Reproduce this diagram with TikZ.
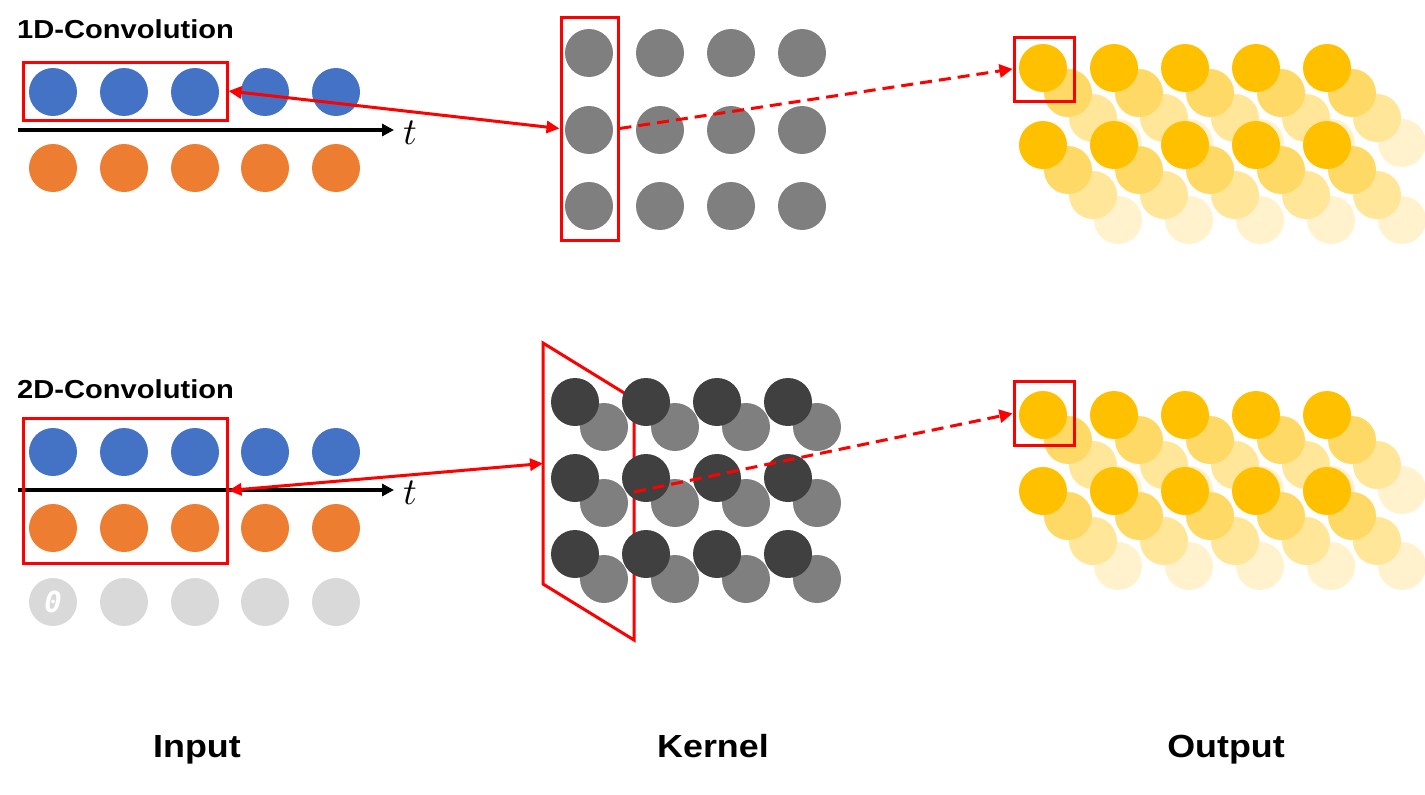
\documentclass[tikz,border=0pt]{standalone}
\usepackage{fontspec}
\usepackage{unicode-math}
\setmathfont{Latin Modern Math}
\newfontfamily\labfont[FakeStretch=1.12]{Liberation Sans}
\newfontfamily\zerofont{DejaVu Sans Mono}
\usetikzlibrary{arrows.meta}
\definecolor{cblue}{HTML}{4472C4}
\definecolor{corange}{HTML}{ED7D31}
\definecolor{clgray}{HTML}{D9D9D9}
\definecolor{kgray}{HTML}{7F7F7F}
\definecolor{kdark}{HTML}{404040}
\definecolor{yA}{HTML}{FFC000}
\definecolor{yB}{HTML}{FFD966}
\definecolor{yC}{HTML}{FFE699}
\definecolor{yD}{HTML}{FFF2CC}
\definecolor{cred}{HTML}{FF0000}
\tikzset{
  dot/.style={circle, minimum size=48pt, inner sep=0pt, draw=none},
  redbox/.style={draw=cred, line width=3pt, inner sep=0pt, rectangle},
  axisline/.style={draw=black, line width=3.5pt, -{Triangle[length=12pt,width=12pt]}},
  solidarr/.style={draw=cred, line width=3pt, {Triangle[length=13pt,width=12pt]}-{Triangle[length=13pt,width=12pt]}},
  dasharr/.style={draw=cred, line width=3pt, dash pattern=on 12pt off 7pt, -{Triangle[length=13pt,width=13pt]}},
  titlelab/.style={font=\labfont\bfseries\fontsize{26}{26}\selectfont, inner sep=0pt, anchor=base west},
  biglab/.style={font=\labfont\bfseries\fontsize{32}{32}\selectfont, inner sep=0pt, anchor=base},
  tlab/.style={font=\fontsize{38}{38}\selectfont, inner sep=0pt, anchor=base west},
}
\begin{document}
\begin{tikzpicture}[x=1pt,y=-1pt]
\useasboundingbox (0,0) rectangle (1425,795);

% ---------------- 1D ----------------
\node[titlelab] (title1) at (17,38) {1D-Convolution};
\foreach \x [count=\i] in {53,124,195,265,336} {
  \node[dot, fill=cblue] (ib1-\i) at (\x,92) {};
  \node[dot, fill=corange] (io1-\i) at (\x,168) {};
}
\node[tlab] (t1) at (403,144) {$t$};
\coordinate (ax1) at (18,130);
\draw[axisline, shorten >=9pt] (ax1) -- (ax1 -| t1.west);
\node[redbox, minimum width=204pt, minimum height=58pt] (inbox1) at (125,91) {};

\foreach \y [count=\r] in {53,130,206} {
  \foreach \x [count=\c] in {589,660,731,802} {
    \node[dot, fill=kgray] (k1-\r-\c) at (\x,\y) {};
  }
}
\node[redbox, minimum width=57pt, minimum height=223pt] (kbox1) at (589.5,128.5) {};

\foreach \yy/\s in {68/a,145/b} {
  \foreach \j/\col in {3/yD,2/yC,1/yB,0/yA} {
    \foreach \x [count=\i] in {1043,1114,1185,1256,1327} {
      \node[dot, fill=\col] (out-\s-\j-\i) at (\x+25*\j,\yy+25*\j) {};
    }
  }
}
\node[redbox, minimum width=60pt, minimum height=64pt] (obox1) at (1044,69) {};

\draw[solidarr] (inbox1.east) -- (kbox1.west);
\draw[dasharr] (kbox1.east) -- (obox1.west);

% ---------------- 2D ----------------
\node[titlelab] (title2) at (17,398) {2D-Convolution};
\foreach \x [count=\i] in {53,124,195,265,336} {
  \node[dot, fill=cblue] (ib2-\i) at (\x,452) {};
  \node[dot, fill=corange] (io2-\i) at (\x,528) {};
  \node[dot, fill=clgray] (iz2-\i) at (\x,602) {};
}
\node[font=\zerofont\bfseries\itshape\fontsize{29}{29}\selectfont, text=white, inner sep=0pt] (zero) at (iz2-1) {0};
\node[tlab] (t2) at (403,504) {$t$};
\coordinate (ax2) at (18,490);
\draw[axisline, shorten >=9pt] (ax2) -- (ax2 -| t2.west);
\node[redbox, minimum width=204pt, minimum height=145pt] (inbox2) at (125,490.5) {};

\foreach \y [count=\r] in {402,478,554} {
  \foreach \x [count=\c] in {575,646,717,788} {
    \node[dot, fill=kgray] (k2b-\r-\c) at (\x+29,\y+25) {};
  }
}
\coordinate (p1) at (543,343);
\coordinate (p2) at (634,399);
\coordinate (p3) at (634,640);
\coordinate (p4) at (543,584);
\draw[draw=cred, line width=3pt, line join=miter] (p1) -- (p2) -- (p3) -- (p4) -- cycle;
\foreach \y [count=\r] in {402,478,554} {
  \foreach \x [count=\c] in {575,646,717,788} {
    \node[dot, fill=kdark] (k2f-\r-\c) at (\x,\y) {};
  }
}
\coordinate (pin) at (543,463.5);
\coordinate (pout) at (634,492);

\foreach \yy/\s in {415/c,491/d} {
  \foreach \j/\col in {3/yD,2/yC,1/yB,0/yA} {
    \foreach \x [count=\i] in {1043,1114,1185,1256,1327} {
      \node[dot, fill=\col] (out-\s-\j-\i) at (\x+25*\j,\yy+25*\j) {};
    }
  }
}
\node[redbox, minimum width=60pt, minimum height=64pt] (obox2) at (1044,413.5) {};

\draw[solidarr] (inbox2.east) -- (pin);
\draw[dasharr] (pout) -- (obox2.west);

% ---------------- bottom labels ----------------
\node[biglab] (linput) at (197,757) {Input};
\node[biglab] (lkernel) at (713,757) {Kernel};
\node[biglab] (loutput) at (1226,757) {Output};
\end{tikzpicture}
\end{document}
